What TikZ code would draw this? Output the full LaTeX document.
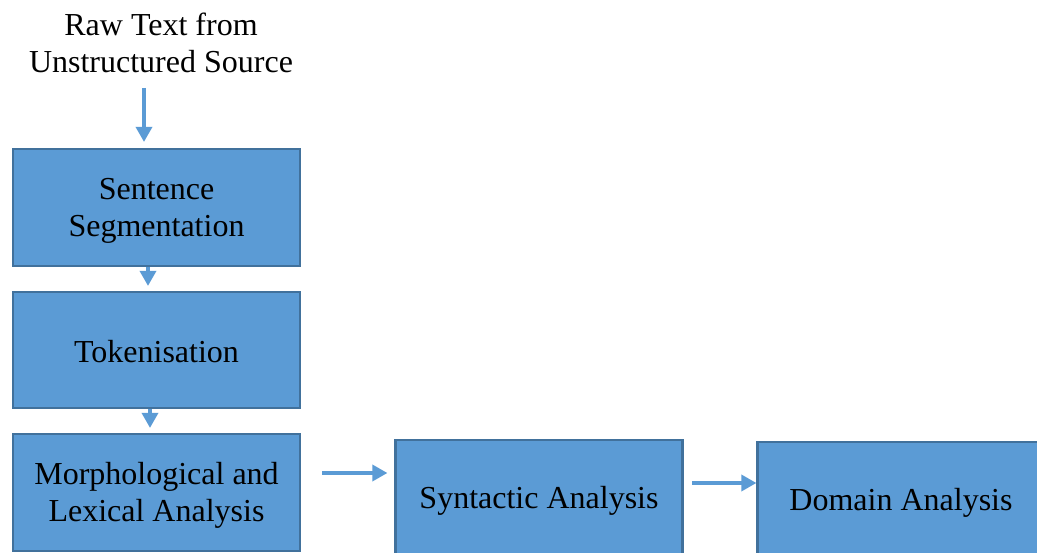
\documentclass[tikz,border=0pt]{standalone}
\usepackage{fontspec}
\setmainfont{Liberation Serif}
\usetikzlibrary{arrows.meta}
\definecolor{boxfill}{HTML}{5B9BD5}
\definecolor{boxline}{HTML}{41719C}
\definecolor{arrowcol}{HTML}{5B9BD5}
\tikzset{
  stagebox/.style={draw=boxline, fill=boxfill, line width=2.2pt,
    minimum width=287pt, minimum height=117pt, inner sep=0pt},
  stagetext/.style={align=center, inner sep=0pt,
    font=\fontsize{32}{37}\selectfont},
  flowarrow/.style={draw=arrowcol, line width=3.4pt,
    -{Triangle[width=16pt,length=15pt]}},
  srctext/.style={align=center, font=\fontsize{32}{37}\selectfont, inner sep=0pt}
}
\begin{document}
\begin{tikzpicture}[x=1pt, y=-1pt]
  \useasboundingbox (0,0) rectangle (1037,553);
  \begin{scope}
    \clip (0,0) rectangle (1037,553);
    % source label
    \node[srctext] (src) at (161,43) {Raw Text from\\Unstructured Source};
    % processing stages
    \node[stagebox] (s1) at (156.5,207.5) {};
    \node[stagebox, minimum height=116pt] (s2) at (156.5,350) {};
    \node[stagebox] (s3) at (156.5,492.5) {};
    \node[stagebox] (s4) at (539,498.5) {};
    \node[stagebox] (s5) at (901,500.5) {};
    % stage labels
    \node[stagetext] (t1) at ([yshift=-3pt]s1.center) {Sentence\\Segmentation};
    \node[stagetext] (t2) at ([yshift=-1.5pt]s2.center) {Tokenisation};
    \node[stagetext] (t3) at ([yshift=-3pt]s3.center) {Morphological and\\Lexical Analysis};
    \node[stagetext] (t4) at ([yshift=-2pt]s4.center) {Syntactic Analysis};
    \node[stagetext] (t5) at ([yshift=-2pt]s5.center) {Domain Analysis};
    % connectors
    \coordinate (a0) at (144,88);
    \draw[flowarrow, shorten >=6pt] (a0) -- (a0 |- s1.north);
    \coordinate (a1) at ([xshift=-8.5pt]s1.south);
    \draw[flowarrow, shorten >=5pt] (a1) -- (a1 |- s2.north);
    \coordinate (a2) at ([xshift=-6.5pt]s2.south);
    \draw[flowarrow, shorten >=5pt] (a2) -- (a2 |- s3.north);
    \coordinate (h1) at (322,473);
    \draw[flowarrow, shorten >=7pt] (h1) -- (h1 -| s4.west);
    \coordinate (h2) at (692,483);
    \draw[flowarrow] (h2) -- (h2 -| s5.west);
  \end{scope}
\end{tikzpicture}
\end{document}
